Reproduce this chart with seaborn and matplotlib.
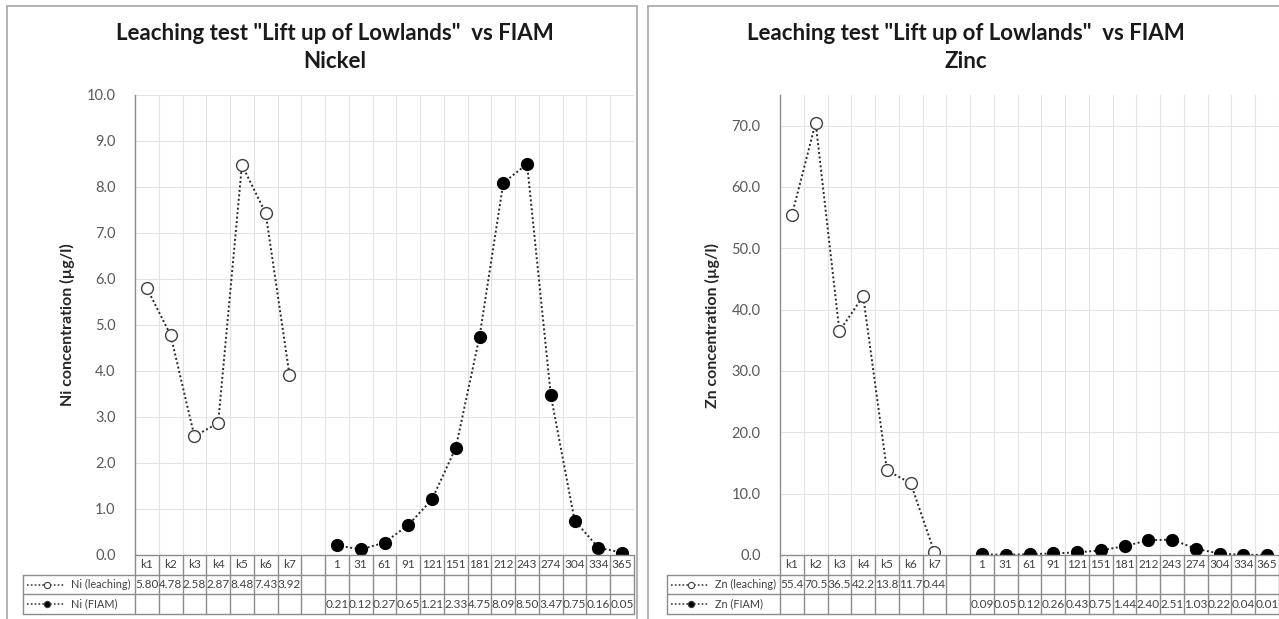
import numpy as np
import pandas as pd
import matplotlib
matplotlib.use("Agg")
import matplotlib.pyplot as plt
import seaborn as sns
from matplotlib.lines import Line2D
from matplotlib.patches import Rectangle
import matplotlib.transforms as mtransforms

# ---------------- data ----------------
categories = ["k1", "k2", "k3", "k4", "k5", "k6", "k7", "",
              "1", "31", "61", "91", "121", "151", "181", "212", "243",
              "274", "304", "334", "365"]
leach_idx = list(range(0, 7))
fiam_idx = list(range(8, 21))

ni_leaching = [5.80, 4.78, 2.58, 2.87, 8.48, 7.43, 3.92]
ni_fiam = [0.21, 0.12, 0.27, 0.65, 1.21, 2.33, 4.75, 8.09, 8.50, 3.47, 0.75, 0.16, 0.05]
zn_leaching = [55.4, 70.5, 36.5, 42.2, 13.8, 11.7, 0.44]
zn_fiam = [0.09, 0.05, 0.12, 0.26, 0.43, 0.75, 1.44, 2.40, 2.51, 1.03, 0.22, 0.04, 0.01]

ni_ticks = [0.0, 1.0, 2.0, 3.0, 4.0, 5.0, 6.0, 7.0, 8.0, 9.0, 10.0]
zn_ticks = [0.0, 10.0, 20.0, 30.0, 40.0, 50.0, 60.0, 70.0]

title_main = 'Leaching test "Lift up of Lowlands"  vs FIAM'

# ---------------- style ----------------
sns.set_style("white")
plt.rcParams['font.family'] = ['Lato', 'DejaVu Sans']

W, H = 1279, 619
fig = plt.figure(figsize=(W / 100, H / 100), dpi=100)


def fx(x):
    return x / W


def fy(y):
    return 1 - y / H


GRID = "#e3e3e3"
TBL = "#8c8c8c"
TXT = "#404040"


def draw_panel(panel_l, panel_r, ax_l, ax_r, lab_l, ymax, ticks, leach, fiam,
               leach_fmt, fiam_fmt, ylabel, subtitle, sym, title_x):
    # panel border
    fig.patches.append(Rectangle((fx(panel_l), fy(H + 5)), fx(panel_r) - fx(panel_l),
                                 fy(6) - fy(H + 5), transform=fig.transFigure,
                                 fill=False, edgecolor="#a6a6a6", lw=1.2, zorder=0))
    top, bot = 95, 555
    ax = fig.add_axes([fx(ax_l), fy(bot), fx(ax_r) - fx(ax_l), fy(top) - fy(bot)])
    n = len(categories)
    df_l = pd.DataFrame({"pos": leach_idx, "val": leach})
    df_f = pd.DataFrame({"pos": fiam_idx, "val": fiam})
    sns.lineplot(data=df_l, x="pos", y="val", ax=ax, color="#262626", linestyle=(0, (1, 1.3)),
                 lw=1.4, marker="o", markersize=8.5, markerfacecolor="white",
                 markeredgecolor="#404040", markeredgewidth=1.0, zorder=5)
    sns.lineplot(data=df_f, x="pos", y="val", ax=ax, color="#262626", linestyle=(0, (1, 1.3)),
                 lw=1.4, marker="o", markersize=8.5, markerfacecolor="black",
                 markeredgecolor="black", markeredgewidth=1.0, zorder=5)
    ax.set_xlim(-0.5, n - 0.5)
    ax.set_ylim(0, ymax)
    ax.set_yticks(ticks)
    ax.set_yticklabels([f"{t:.1f}" for t in ticks], color="#595959", fontsize=10.5)
    ax.tick_params(axis="y", length=0, pad=14)
    ax.set_xticks([])
    ax.set_xlabel("")
    ax.set_ylabel(ylabel, fontsize=11.5, fontweight="bold", color="#262626", labelpad=8)
    for t in ticks[1:]:
        ax.axhline(t, color=GRID, lw=0.8, zorder=0)
    for i in range(1, n + 1):
        ax.axvline(i - 0.5, color=GRID, lw=0.8, zorder=0)
    for s in ["top", "right", "bottom"]:
        ax.spines[s].set_visible(False)
    ax.spines["left"].set_color("#8c8c8c")
    ax.spines["left"].set_linewidth(1.0)
    ax.set_facecolor("none")

    # titles
    fig.text(fx(title_x), fy(33), title_main, ha="center", va="center",
             fontsize=16, fontweight="bold", color="#1a1a1a")
    fig.text(fx(title_x), fy(62), subtitle, ha="center", va="center",
             fontsize=16, fontweight="bold", color="#1a1a1a")

    # data table
    bt = mtransforms.blended_transform_factory(ax.transData, fig.transFigure)
    r0, r1, r2, r3 = 555, 575, 594, 614
    fig.add_artist(Line2D([fx(ax_l), fx(ax_r)], [fy(r0), fy(r0)], color=TBL, lw=1.0,
                          transform=fig.transFigure))
    for r in (r1, r2, r3):
        fig.add_artist(Line2D([fx(lab_l), fx(ax_r)], [fy(r), fy(r)], color=TBL, lw=1.0,
                              transform=fig.transFigure))
    fig.add_artist(Line2D([fx(lab_l), fx(lab_l)], [fy(r1), fy(r3)], color=TBL, lw=1.0,
                          transform=fig.transFigure))
    for i in range(n + 1):
        fig.add_artist(Line2D([i - 0.5, i - 0.5], [fy(r0), fy(r3)], color=TBL, lw=1.0,
                              transform=bt))
    for i, c in enumerate(categories):
        fig.text(i, fy((r0 + r1) / 2), c, transform=bt, ha="center", va="center",
                 fontsize=8.5, color=TXT)
    for p, v in zip(leach_idx, leach):
        fig.text(p, fy((r1 + r2) / 2), leach_fmt(v), transform=bt, ha="center",
                 va="center", fontsize=8.5, color=TXT)
    for p, v in zip(fiam_idx, fiam):
        fig.text(p, fy((r2 + r3) / 2), fiam_fmt(v), transform=bt, ha="center",
                 va="center", fontsize=8.5, color=TXT)
    # legend keys
    for (r_a, r_b), face, lab in (((r1, r2), "white", f"{sym} (leaching)"),
                                  ((r2, r3), "black", f"{sym} (FIAM)")):
        yy = fy((r_a + r_b) / 2)
        fig.add_artist(Line2D([fx(lab_l + 4), fx(lab_l + 42)], [yy, yy], color="#404040",
                              lw=1.2, linestyle=(0, (1, 1.3)), transform=fig.transFigure))
        fig.add_artist(Line2D([fx(lab_l + 24)], [yy], marker="o", markersize=4.5,
                              markerfacecolor=face, markeredgecolor="#404040",
                              markeredgewidth=0.8, transform=fig.transFigure))
        fig.text(fx(lab_l + 48), yy, lab, ha="left", va="center", fontsize=7.8, color=TXT)
    return ax


draw_panel(7, 637, 135, 634, 23, 10.0, ni_ticks, ni_leaching, ni_fiam,
           lambda v: f"{v:.2f}", lambda v: f"{v:.2f}",
           "Ni concentration (µg/l)", "Nickel", "Ni", 335)
draw_panel(648, W + 10, 780, 1279, 667, 75.0, zn_ticks, zn_leaching, zn_fiam,
           lambda v: f"{v:.3g}", lambda v: f"{v:.2f}",
           "Zn concentration (µg/l)", "Zinc", "Zn", 966)

fig.savefig("out.png", dpi=100, facecolor="white")
